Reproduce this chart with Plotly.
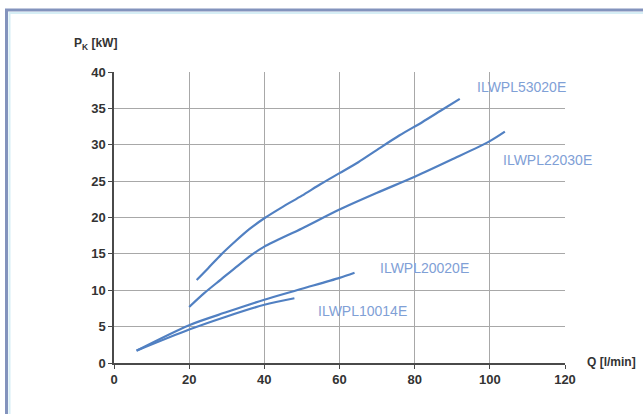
import plotly.graph_objects as go

# Data
q_53020 = [22, 25, 28.5, 32, 36, 40, 45, 50, 55, 60, 65, 70, 76, 82, 87, 92]
p_53020 = [11.4, 13.0, 14.9, 16.6, 18.4, 19.9, 21.5, 23.0, 24.6, 26.1, 27.6, 29.3, 31.3, 33.1, 34.7, 36.3]

q_22030 = [20, 24, 28.5, 33, 37, 40, 50, 60, 70, 80, 90, 100, 104]
p_22030 = [7.7, 9.6, 11.5, 13.4, 15.0, 16.0, 18.5, 21.1, 23.4, 25.6, 28.0, 30.5, 31.8]

q_20020 = [6, 20, 30, 40, 50, 60, 64]
p_20020 = [1.7, 5.2, 7.0, 8.7, 10.2, 11.7, 12.4]

q_10014 = [6, 20, 30, 40, 48]
p_10014 = [1.7, 4.6, 6.4, 8.0, 8.9]

series = [
    ("ILWPL53020E", q_53020, p_53020, 108.5, 37.9),
    ("ILWPL22030E", q_22030, p_22030, 115.4, 27.9),
    ("ILWPL20020E", q_20020, p_20020, 82.7, 13.0),
    ("ILWPL10014E", q_10014, p_10014, 66.0, 7.2),
]

x_ticks = [0, 20, 40, 60, 80, 100, 120]
y_ticks = [0, 5, 10, 15, 20, 25, 30, 35, 40]

LINE = "#5180c2"
LABEL = "#7fa0d6"
FONT = "Liberation Sans, Arial, sans-serif"

fig = go.Figure()
for name, xs, ys, lx, ly in series:
    fig.add_trace(go.Scatter(x=xs, y=ys, mode="lines", name=name,
                             line=dict(color=LINE, width=2.2, shape="spline", smoothing=0.8),
                             showlegend=False, hoverinfo="skip"))
    fig.add_annotation(x=lx, y=ly, xref="x", yref="y", text=name, showarrow=False,
                       font=dict(family=FONT, size=14, color=LABEL))

axis_common = dict(
    showgrid=True, gridcolor="#a8a8a8", gridwidth=1,
    showline=True, linecolor="#4a4a4a", linewidth=1.5,
    ticks="outside", ticklen=4, tickcolor="#4a4a4a", tickwidth=1.2,
    tickfont=dict(family=FONT, size=13, color="#333333", weight="bold"),
    zeroline=False,
)

fig.update_xaxes(range=[0, 120], tickvals=x_ticks, ticktext=[str(v) for v in x_ticks],
                 mirror=False, **axis_common)
fig.update_yaxes(range=[0, 40], tickvals=y_ticks, ticktext=[str(v) for v in y_ticks],
                 **axis_common)

# Axis titles
fig.add_annotation(xref="paper", yref="paper", x=(72 - 114) / 451, y=(363 - 44) / 291,
                   xanchor="left", yanchor="middle", showarrow=False,
                   text="P<sub>K</sub> [kW]",
                   font=dict(family=FONT, size=12, color="#333333", weight="bold"))
fig.add_annotation(xref="paper", yref="paper", x=(585 - 114) / 451, y=(363 - 362) / 291,
                   xanchor="left", yanchor="middle", showarrow=False,
                   text="Q [l/min]",
                   font=dict(family=FONT, size=12, color="#333333", weight="bold"))

# Outer frame
fig.add_shape(type="rect", xref="paper", yref="paper",
              x0=(6.5 - 114) / 451, x1=2.0, y0=-1.0, y1=(363 - 10) / 291,
              line=dict(color="#8393bd", width=3), fillcolor="rgba(0,0,0,0)", layer="below")
fig.add_shape(type="rect", xref="paper", yref="paper",
              x0=(9.5 - 114) / 451, x1=2.0, y0=-1.0, y1=(363 - 13) / 291,
              line=dict(color="#d6eef5", width=2), fillcolor="rgba(0,0,0,0)", layer="below")

fig.update_layout(
    width=643, height=414,
    margin=dict(l=114, r=78, t=72, b=51),
    paper_bgcolor="white", plot_bgcolor="white",
    font=dict(family=FONT),
)

fig.write_html("out.html", config={"displayModeBar": False},
               post_script="document.body.style.margin='0px';document.body.style.overflow='hidden';")
